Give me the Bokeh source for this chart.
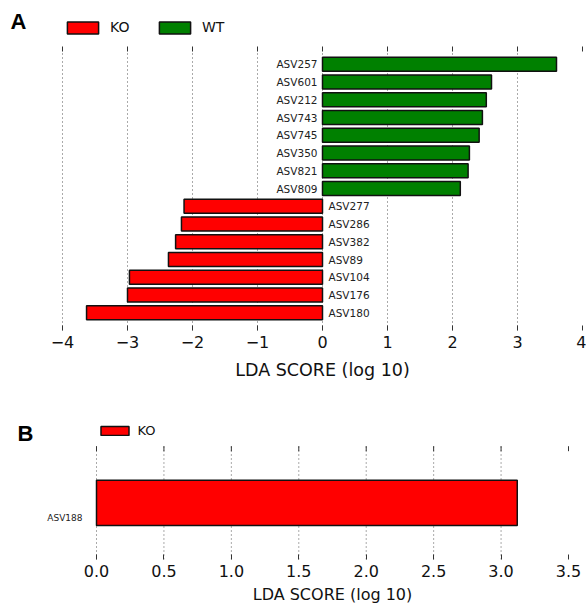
from bokeh.plotting import figure
from bokeh.models import (ColumnDataSource, Range1d, FixedTicker, Legend, LegendItem,
                          Label)
from bokeh.layouts import column, row
from bokeh.core.properties import value
from bokeh.embed import file_html
from bokeh.resources import INLINE

# ---------------- data ----------------
# Panel A (top to bottom)
names_a = ["ASV257", "ASV601", "ASV212", "ASV743", "ASV745", "ASV350", "ASV821", "ASV809",
           "ASV277", "ASV286", "ASV382", "ASV89", "ASV104", "ASV176", "ASV180"]
scores_a = [3.60, 2.60, 2.52, 2.46, 2.41, 2.26, 2.24, 2.12,
            -2.13, -2.17, -2.26, -2.37, -2.97, -3.00, -3.63]
groups_a = ["WT"] * 8 + ["KO"] * 7
ticks_a = [-4, -3, -2, -1, 0, 1, 2, 3, 4]

# Panel B
names_b = ["ASV188"]
scores_b = [3.12]
groups_b = ["KO"]
ticks_b = [0.0, 0.5, 1.0, 1.5, 2.0, 2.5, 3.0, 3.5]

colors = {"KO": "#FF0000", "WT": "#008000"}
FONT = "DejaVu Sans"
EDGE = 2  # px of breathing room so edge grid lines / ticks are not clipped


def bare_fig(width, height, y_range=None, bottom=0):
    f = figure(width=width, height=height, x_range=Range1d(0, 1),
               y_range=y_range if y_range is not None else Range1d(0, 1),
               title=None, x_axis_location=None, y_axis_location=None,
               output_backend="svg", toolbar_location=None, frame_align=False,
               min_border_left=0, min_border_right=0, min_border_top=0,
               min_border_bottom=bottom)
    f.xgrid.visible = False
    f.ygrid.visible = False
    f.outline_line_color = None
    return f


def make_panel(width, height, left_px, right_px, bottom_px, top_px, core_x, core_y):
    frame_w = width - left_px - right_px
    frame_h = height - bottom_px
    xpp = (frame_w - 2 * EDGE) / (core_x[1] - core_x[0])
    ypp = (frame_h - top_px) / (core_y[1] - core_y[0])
    p = figure(width=width, height=height,
               x_range=Range1d(core_x[0] - EDGE / xpp, core_x[1] + EDGE / xpp),
               y_range=Range1d(core_y[0], core_y[1] + top_px / ypp), title=None,
               output_backend="svg", toolbar_location=None, frame_align=False,
               min_border_left=left_px, min_border_right=right_px, min_border_top=0,
               min_border_bottom=bottom_px)
    return p, ypp


def style_axes(p, ticks, labels, core_y, ypp, tick_size, label_size,
               tick_standoff, label_standoff):
    ax = p.xaxis[0]
    ax.ticker = FixedTicker(ticks=ticks)
    ax.major_label_overrides = labels
    ax.axis_line_color = None
    ax.major_tick_in = 5
    ax.major_tick_out = 0
    ax.minor_tick_line_color = None
    ax.major_tick_line_color = "#333333"
    ax.major_label_text_font = FONT
    ax.major_label_text_font_size = tick_size
    ax.major_label_text_color = "#111111"
    ax.major_label_standoff = tick_standoff
    ax.axis_label = "LDA SCORE (log 10)"
    ax.axis_label_text_font = FONT
    ax.axis_label_text_font_style = "normal"
    ax.axis_label_text_font_size = label_size
    ax.axis_label_text_color = "#111111"
    ax.axis_label_standoff = label_standoff
    p.yaxis.visible = False
    p.xgrid.visible = False
    p.ygrid.visible = False
    p.outline_line_color = None
    # dotted vertical grid lines over the data box only
    gsrc = ColumnDataSource(dict(x=ticks[:-1]))
    p.segment(x0="x", x1="x", y0=core_y[0], y1=core_y[1], source=gsrc,
              line_color="#555555", line_dash="1 3", line_width=1, level="underlay")
    # short tick marks along the top edge of the data box
    tsrc = ColumnDataSource(dict(x=ticks))
    p.segment(x0="x", x1="x", y0=core_y[1] - 5 / ypp, y1=core_y[1], source=tsrc,
              line_color="#333333", line_width=1)


# ---------------- Panel A ----------------
n = len(names_a)
ypos = [n - 1 - i for i in range(n)]
coreAx, coreAy = (-4, 4), (-1, n)
pA, yppA = make_panel(544, 400, 20 - EDGE, 4 - EDGE, 70, 46, coreAx, coreAy)
style_axes(pA, ticks_a, {t: str(t).replace("-", "\u2212") for t in ticks_a},
           coreAy, yppA, "16px", "17.5px", 5, 9)

src_wt = ColumnDataSource(dict(
    y=[ypos[i] for i in range(n) if groups_a[i] == "WT"],
    v=[scores_a[i] for i in range(n) if groups_a[i] == "WT"],
    name=[names_a[i] for i in range(n) if groups_a[i] == "WT"]))
src_ko = ColumnDataSource(dict(
    y=[ypos[i] for i in range(n) if groups_a[i] == "KO"],
    v=[scores_a[i] for i in range(n) if groups_a[i] == "KO"],
    name=[names_a[i] for i in range(n) if groups_a[i] == "KO"]))

r_ko = pA.hbar(y="y", left=0, right="v", height=0.8, source=src_ko,
               fill_color=colors["KO"], line_color="#111111", line_width=1.5)
r_wt = pA.hbar(y="y", left=0, right="v", height=0.8, source=src_wt,
               fill_color=colors["WT"], line_color="#111111", line_width=1.5)
pA.text(x=0, y="y", text="name", source=src_wt, x_offset=-5, text_align="right",
        text_baseline="middle", text_font=value(FONT), text_font_size="10.5px",
        text_color="#222222")
pA.text(x=0, y="y", text="name", source=src_ko, x_offset=6, text_align="left",
        text_baseline="middle", text_font=value(FONT), text_font_size="10.5px",
        text_color="#222222")

legA = Legend(items=[LegendItem(label="KO", renderers=[r_ko]),
                     LegendItem(label="WT", renderers=[r_wt])],
              orientation="horizontal", location=(1 + EDGE, 295),
              glyph_width=39, glyph_height=15, label_height=12, label_width=20,
              label_standoff=8, spacing=25, padding=0, margin=0,
              border_line_color=None, background_fill_alpha=0,
              label_text_font=FONT, label_text_font_size="14px",
              label_text_color="#111111")
pA.add_layout(legA)

leftA = bare_fig(42, 400)
leftA.add_layout(Label(x=10, y=379, x_units="screen", y_units="screen", text="A",
                       text_font="Liberation Sans", text_font_style="bold",
                       text_font_size="22px", text_baseline="middle", text_color="black"))

# ---------------- Panel B ----------------
coreBx, coreBy = (0, 3.5), (-1, 1)
pB, yppB = make_panel(503, 206, 13 - EDGE, 18 - EDGE, 46, 46, coreBx, coreBy)
style_axes(pB, ticks_b, {t: f"{t:.1f}" for t in ticks_b},
           coreBy, yppB, "16px", "16px", 5, 5)

src_b = ColumnDataSource(dict(y=list(range(len(names_b))), v=scores_b, name=names_b))
r_b = pB.hbar(y="y", left=0, right="v", height=0.8, source=src_b,
              fill_color=colors["KO"], line_color="#111111", line_width=1.5)
legB = Legend(items=[LegendItem(label="KO", renderers=[r_b])],
              orientation="horizontal", location=(0.5 + EDGE, 121),
              glyph_width=35, glyph_height=11, label_height=9, label_width=20,
              label_standoff=6, spacing=20, padding=0, margin=0,
              border_line_color=None, background_fill_alpha=0,
              label_text_font=FONT, label_text_font_size="13px",
              label_text_color="#111111")
pB.add_layout(legB)

leftB = bare_fig(83, 206, y_range=pB.y_range, bottom=46)
leftB.text(x=1, y="y", text="name", source=src_b, x_offset=-1, y_offset=14,
           text_align="right", text_baseline="middle", text_font=value(FONT),
           text_font_size="9px", text_color="#222222")
leftB.add_layout(Label(x=17, y=127, x_units="screen", y_units="screen", text="B",
                       text_font="Liberation Sans", text_font_style="bold",
                       text_font_size="22px", text_baseline="middle", text_color="black"))

layout = column(row(leftA, pA, spacing=0), row(leftB, pB, spacing=0), spacing=0)
open("out.html", "w").write(file_html(layout, INLINE))
